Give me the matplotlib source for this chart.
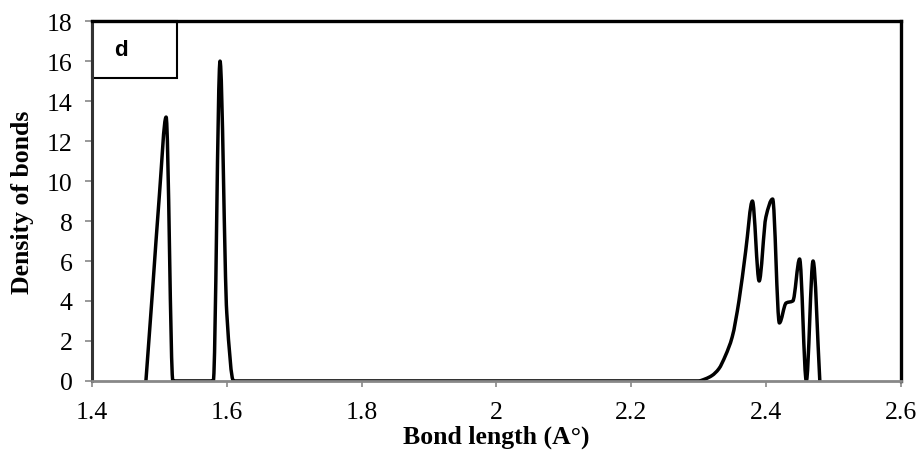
import matplotlib
matplotlib.use("Agg")
import matplotlib.pyplot as plt
from matplotlib.path import Path
from matplotlib.patches import PathPatch, Rectangle
import numpy as np

# values
bond_length = [1.48, 1.49, 1.50, 1.51, 1.52, 1.58, 1.59, 1.60, 1.61,
               2.30, 2.31, 2.32, 2.33, 2.34, 2.35, 2.36, 2.37, 2.38, 2.39,
               2.40, 2.41, 2.42, 2.43, 2.44, 2.45, 2.46, 2.47, 2.48]
density = [0, 4.6, 9.3, 13.2, 0, 0, 16.0, 3.4, 0,
           0, 0.1, 0.27, 0.6, 1.27, 2.2, 4.0, 6.5, 9.0, 5.0,
           8.2, 9.1, 2.9, 3.9, 4.0, 6.1, 0, 6.0, 0]
x_ticks = [1.4, 1.6, 1.8, 2.0, 2.2, 2.4, 2.6]
x_tick_labels = ["1.4", "1.6", "1.8", "2", "2.2", "2.4", "2.6"]
y_ticks = [0, 2, 4, 6, 8, 10, 12, 14, 16, 18]
panel_label = "d"


def smooth_path(xs, ys):
    # monotone cubic (no overshoot) turned into bezier segments, like a smoothed line
    xs = np.asarray(xs, float)
    ys = np.asarray(ys, float)
    h = np.diff(xs)
    d = np.diff(ys) / h
    m = np.zeros_like(ys)
    for i in range(1, len(xs) - 1):
        if d[i-1] * d[i] > 0:
            w1 = 2*h[i] + h[i-1]
            w2 = h[i] + 2*h[i-1]
            m[i] = (w1 + w2) / (w1/d[i-1] + w2/d[i])
    m[0] = d[0]
    m[-1] = d[-1]
    verts = [(xs[0], ys[0])]
    codes = [Path.MOVETO]
    for i in range(len(xs) - 1):
        dx = h[i] / 3
        verts += [(xs[i] + dx, ys[i] + m[i]*dx),
                  (xs[i+1] - dx, ys[i+1] - m[i+1]*dx),
                  (xs[i+1], ys[i+1])]
        codes += [Path.CURVE4] * 3
    return Path(verts, codes)


fig = plt.figure(figsize=(9.2, 4.52), dpi=100)
ax = fig.add_axes([0.1, 0.155, 0.879, 0.796])

line = PathPatch(smooth_path(bond_length, density), fill=False,
                 edgecolor="black", linewidth=2.5, joinstyle="round", capstyle="round")
ax.add_patch(line)

ax.set_xlim(1.4, 2.6)
ax.set_ylim(0, 18)
ax.set_xticks(x_ticks)
ax.set_xticklabels(x_tick_labels)
ax.set_yticks(y_ticks)

for lab in ax.get_xticklabels() + ax.get_yticklabels():
    lab.set_fontfamily("Liberation Serif")
    lab.set_fontsize(18.5)

ax.tick_params(axis="x", direction="out", length=4.5, width=1.2, color="#888888", pad=10)
ax.tick_params(axis="y", direction="out", length=5, width=1.2, color="#888888", pad=9)

ax.spines["top"].set_color("black")
ax.spines["top"].set_linewidth(2.4)
ax.spines["right"].set_color("black")
ax.spines["right"].set_linewidth(2.4)
ax.spines["left"].set_color("#333333")
ax.spines["left"].set_linewidth(2.2)
ax.spines["bottom"].set_color("#888888")
ax.spines["bottom"].set_linewidth(2.0)

ax.set_xlabel("Bond length (A\u00b0)", fontfamily="Liberation Serif",
              fontweight="bold", fontsize=18.5, labelpad=1)
ax.set_ylabel("Density of bonds", fontfamily="Liberation Serif",
              fontweight="bold", fontsize=18.5, labelpad=9)

# panel label box in the top-left corner
box = Rectangle((0, 0.842), 0.105, 0.158, transform=ax.transAxes, fill=False,
                edgecolor="black", linewidth=1.5, clip_on=False)
ax.add_patch(box)
ax.text(0.036, 0.92, panel_label, transform=ax.transAxes, fontfamily="Liberation Sans",
        fontweight="bold", fontsize=16, ha="center", va="center")

fig.savefig("out.png", dpi=100)
